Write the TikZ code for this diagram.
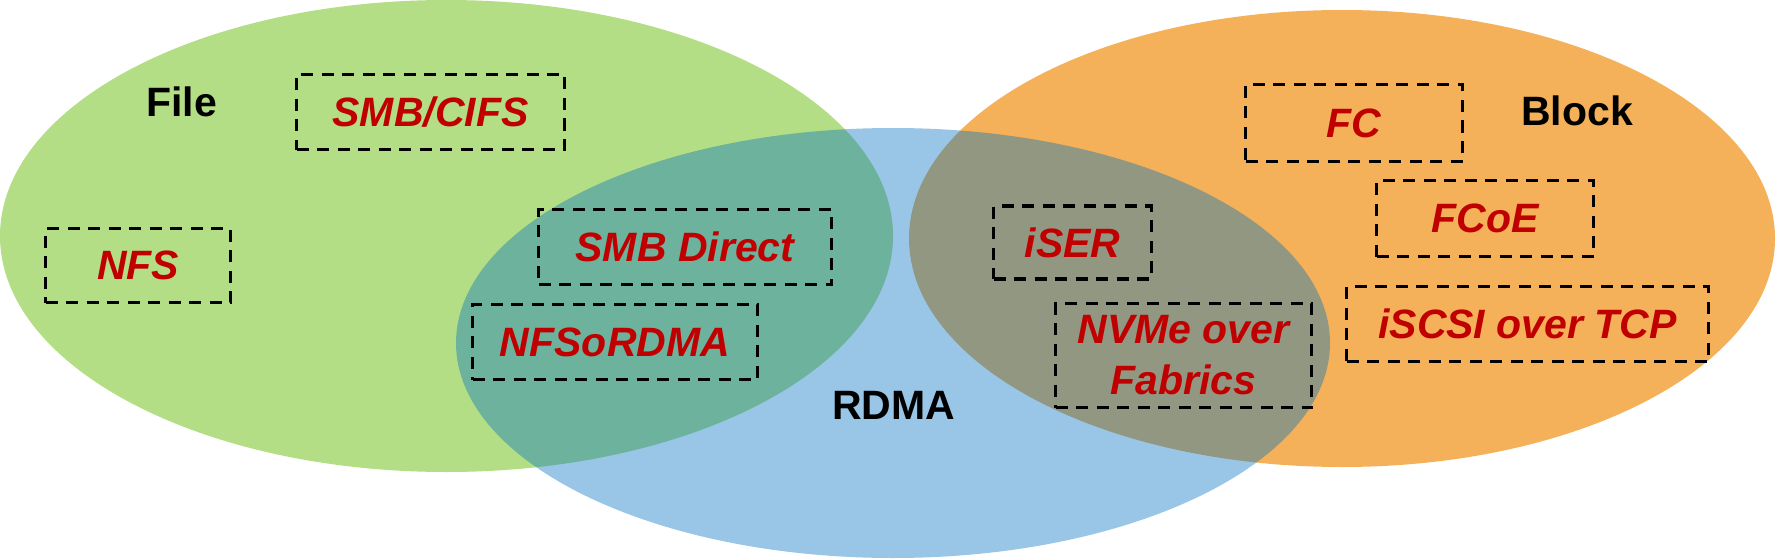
\documentclass[tikz,border=0pt]{standalone}
\usepackage{fontspec}
\setmainfont{Liberation Sans}
\definecolor{filegreen}{RGB}{180,222,134}
\definecolor{blockorange}{RGB}{244,177,89}
\definecolor{rdmablue}{RGB}{0,112,192}
\definecolor{protored}{RGB}{192,0,0}
\begin{document}
\begin{tikzpicture}[x=1pt,y=-1pt,
  proto/.style={draw=black, dash pattern=on 12pt off 8.5pt, line width=3.3pt,
    text=protored, font=\fontsize{41}{51}\selectfont\bfseries\itshape,
    inner sep=0pt, align=center},
  setlabel/.style={font=\fontsize{41}{51}\selectfont\bfseries, text=black, inner sep=0pt}]
\useasboundingbox (0,0) rectangle (1776,559);
% sets
\fill[filegreen] (446.5,236) ellipse [x radius=446.5pt, y radius=236pt];
\fill[blockorange] (1342,238.5) ellipse [x radius=433pt, y radius=228.5pt];
\fill[rdmablue, opacity=0.4] (893,343) ellipse [x radius=437pt, y radius=215pt];
% set labels
\node[setlabel] (file) at (181.5,102) {File};
\node[setlabel] (block) at (1577,111) {Block};
\node[setlabel] (rdma) at (893.5,405) {RDMA};
% protocols
\node[proto, minimum width=268pt, minimum height=75pt] (smbcifs) at (430.5,112) {SMB/CIFS};
\node[proto, minimum width=185pt, minimum height=74pt] (nfs) at (138,265.5) {NFS};
\node[proto, minimum width=293pt, minimum height=75pt] (smbdirect) at (685,247) {SMB Direct};
\node[proto, minimum width=285pt, minimum height=75pt] (nfsordma) at (615,342) {NFSoRDMA};
\node[proto, minimum width=158pt, minimum height=73pt] (iser) at (1072.5,242.5) {iSER};
\node[proto, minimum width=256pt, minimum height=104pt] (nvmeof) at (1183.5,355.5) {NVMe over\\Fabrics};
\node[proto, minimum width=217pt, minimum height=77pt] (fc) at (1354,123) {FC};
\node[proto, minimum width=217pt, minimum height=76pt] (fcoe) at (1485,218.5) {FCoE};
\node[proto, minimum width=362pt, minimum height=75pt] (iscsi) at (1527.5,324) {iSCSI over TCP};
\end{tikzpicture}
\end{document}
